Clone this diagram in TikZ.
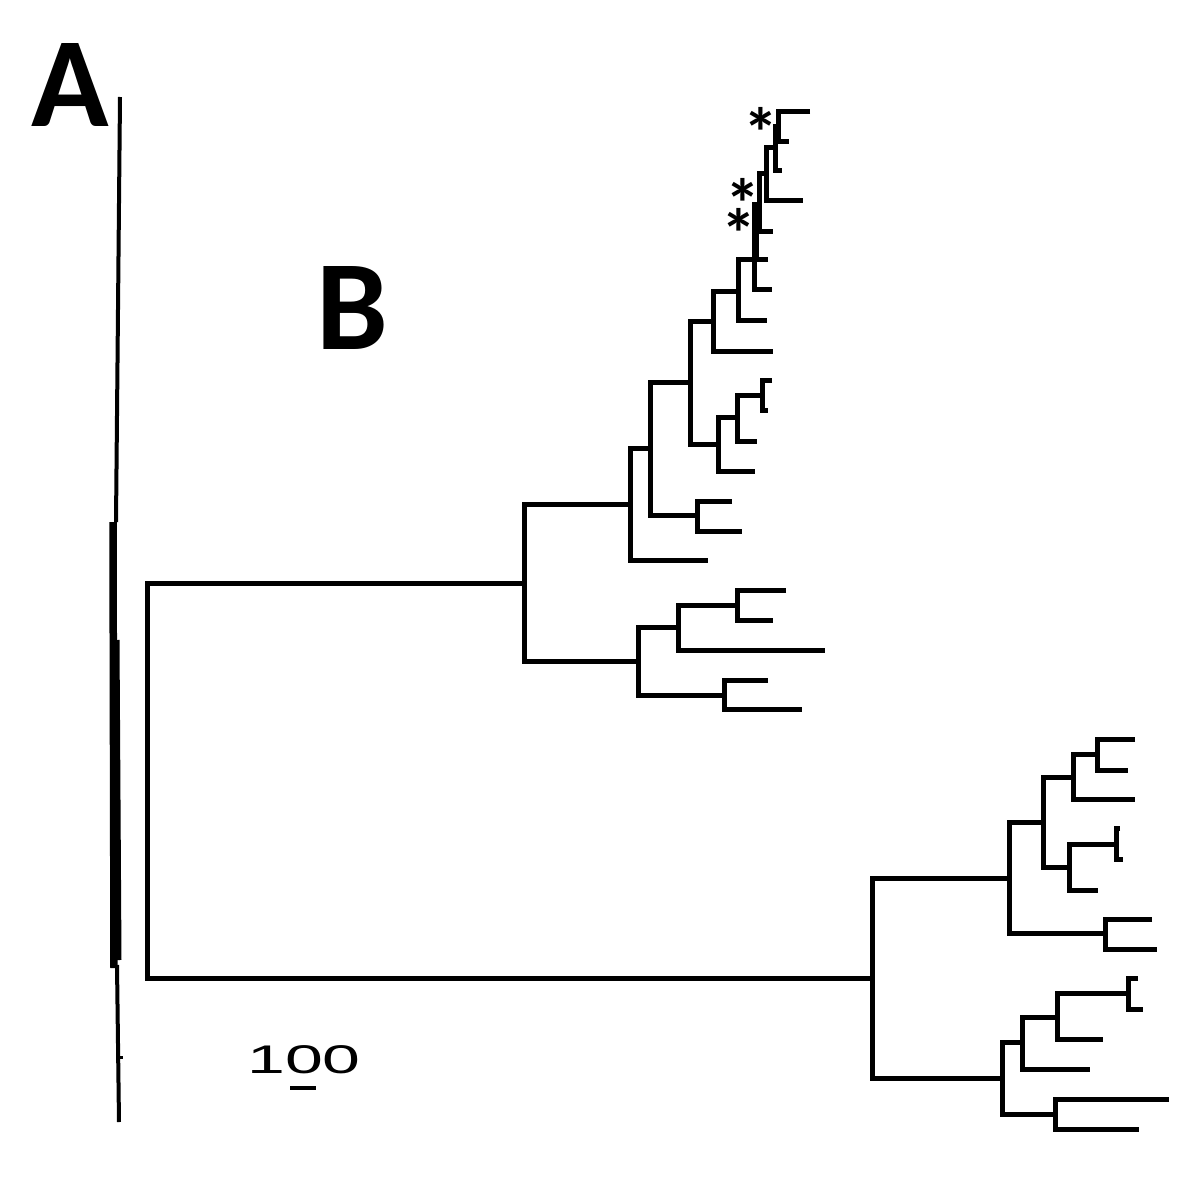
\documentclass[tikz,border=0pt]{standalone}
\usepackage{fontspec}
\usepackage{tikz}
\usetikzlibrary{positioning}
\newfontfamily\panelfont{Carlito}
\newfontfamily\barfont{Liberation Sans}
\newcommand{\starmark}{\raisebox{-0.36em}[0.32em][0pt]{*}}

\tikzset{
  branch/.style={line width=5pt, line join=miter},
  panel/.style={inner sep=0pt, font=\panelfont\bfseries\fontsize{128}{128}\selectfont},
  support/.style={inner sep=0pt, font=\panelfont\bfseries\fontsize{70}{30}\selectfont},
}

\begin{document}
\begin{tikzpicture}[x=1pt,y=-1pt]
  \useasboundingbox (0,0) rectangle (1200,1193);
  % panel A: tree drawn at the full scale, collapsed to a line
  \draw[branch, line width=4pt] (120,97) -- (116,522);
  \draw[branch, line width=7.5pt] (113,522) -- (114,968);
  \draw[branch] (117,640) -- (119,960);
  \draw[branch, line width=4pt] (117,965) -- (119,1122);
  \draw[branch, line width=3pt] (118,1057) -- (123,1057);
  % panel B: node x / upper y / upper end / lower y / lower end
  \foreach \nx/\ya/\xa/\yb/\xb in {
      147/583/524/978/872,
      524/504/630/661/638, 630/448/650/560/708, 650/382/690/515/697,
      697/501/732/531/742, 690/321/713/444/718, 718/417/737/471/755,
      737/395/762/441/757, 762/380/772/410/768, 713/292/738/351/773,
      738/260/768/320/767, 754/205/759/290/772, 759/174/766/232/773,
      766/148/775/201/803, 775/127/778/171/782, 778/112/810/142/789,
      638/627/678/695/724, 678/605/737/650/825, 737/590/786/620/773,
      724/680/768/709/802,
      872/878/1009/1078/1002, 1009/822/1043/933/1105, 1043/777/1073/867/1069,
      1073/754/1097/799/1135, 1097/739/1135/770/1128, 1069/844/1116/890/1098,
      1116/828/1120/859/1123, 1105/919/1152/949/1157,
      1002/1042/1022/1114/1055, 1022/1017/1057/1069/1090, 1057/993/1128/1039/1103,
      1128/978/1138/1009/1143, 1055/1099/1169/1129/1139}
    \draw[branch] (\xa,\ya) -| (\nx,\yb) -- (\xb,\yb);
  \draw[branch, line width=7pt] (755,232) -- (755,260);
  \draw[branch, line width=7pt] (776,125) -- (776,143);
  % labels
  \node[panel, anchor=north west] (labA) at (31,43) {A};
  \node[panel, anchor=north west] (labB) at (316,266) {B};
  \node[support] (star1) at (761,121) {\starmark};
  \node[support, align=center] (star23) at (739,207) {\hspace*{8pt}\starmark\\\starmark};
  \node[inner sep=0pt, font=\barfont\fontsize{40}{40}\selectfont, anchor=north west]
    (scale) at (247,1045) {\scalebox{1.7}[1]{100}};
  \draw[line width=4.5pt] (290,1088) -- (316,1088);
\end{tikzpicture}
\end{document}
